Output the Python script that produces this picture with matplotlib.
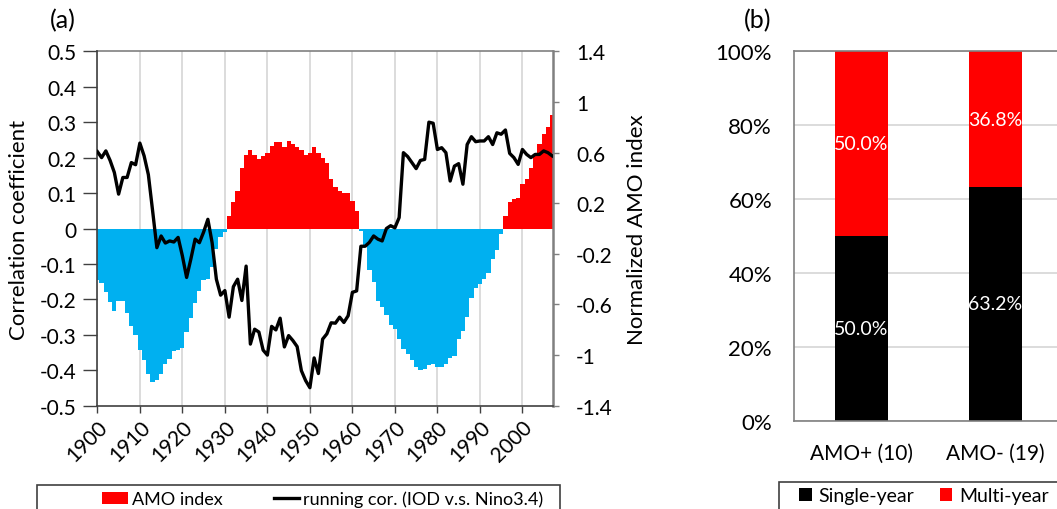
import matplotlib
matplotlib.use('Agg')
import numpy as np
import matplotlib.pyplot as plt
from matplotlib.patches import Patch, Rectangle
from matplotlib.lines import Line2D
from matplotlib.ticker import PercentFormatter

plt.rcParams['font.family'] = ['Lato', 'DejaVu Sans']

# annual series, 1900-2007
years = np.arange(1900, 2008)

amo_index = [
    -0.41, -0.43, -0.50, -0.58, -0.65, -0.57, -0.57, -0.67, -0.77, -0.84,
    -0.96, -1.04, -1.15, -1.21, -1.20, -1.15, -1.07, -1.03, -0.97, -0.96,
    -0.94, -0.82, -0.71, -0.59, -0.49, -0.41, -0.40, -0.30, -0.16, -0.07,
    -0.03, 0.10, 0.21, 0.30, 0.48, 0.58, 0.62, 0.58, 0.55, 0.57,
    0.60, 0.65, 0.68, 0.68, 0.64, 0.69, 0.67, 0.64, 0.62, 0.58,
    0.60, 0.64, 0.60, 0.56, 0.52, 0.39, 0.33, 0.30, 0.28, 0.28,
    0.22, 0.14, -0.02, -0.14, -0.33, -0.42, -0.57, -0.62, -0.68, -0.76,
    -0.79, -0.87, -0.95, -0.99, -1.04, -1.09, -1.12, -1.11, -1.08, -1.07,
    -1.09, -1.09, -1.07, -1.02, -1.01, -0.87, -0.81, -0.70, -0.55, -0.47,
    -0.44, -0.40, -0.35, -0.24, -0.17, -0.04, 0.10, 0.21, 0.23, 0.24,
    0.35, 0.39, 0.48, 0.57, 0.67, 0.75, 0.80, 0.90,
]

running_cor = [
    0.217, 0.200, 0.219, 0.192, 0.158, 0.097, 0.144, 0.144, 0.186, 0.180,
    0.241, 0.205, 0.152, 0.050, -0.054, -0.021, -0.041, -0.035, -0.038, -0.025,
    -0.077, -0.138, -0.086, -0.030, -0.040, -0.010, 0.026, -0.040, -0.143, -0.188,
    -0.175, -0.250, -0.164, -0.143, -0.203, -0.106, -0.326, -0.284, -0.292, -0.343,
    -0.357, -0.276, -0.286, -0.253, -0.334, -0.302, -0.316, -0.333, -0.401, -0.429,
    -0.449, -0.365, -0.409, -0.312, -0.297, -0.266, -0.267, -0.250, -0.265, -0.246,
    -0.180, -0.176, -0.050, -0.050, -0.039, -0.021, -0.030, -0.035, 0.000, 0.008,
    0.002, 0.031, 0.214, 0.203, 0.186, 0.169, 0.192, 0.195, 0.300, 0.297,
    0.223, 0.228, 0.214, 0.134, 0.176, 0.183, 0.125, 0.237, 0.259, 0.245,
    0.247, 0.247, 0.259, 0.237, 0.270, 0.266, 0.278, 0.212, 0.200, 0.181,
    0.223, 0.209, 0.200, 0.209, 0.209, 0.219, 0.214, 0.205,
]

decade_ticks = np.arange(1900, 2001, 10)
cor_ticks = np.round(np.arange(-0.5, 0.51, 0.1), 1)
amo_ticks = np.round(np.arange(-1.4, 1.41, 0.4), 1)

groups = ['AMO+ (10)', 'AMO- (19)']
single_year = [0.500, 0.632]
multi_year = [0.500, 0.368]

RED = '#FF0000'
BLUE = '#00B0F0'
GRID = '#D9D9D9'
DARK = '#404040'
GREY = '#808080'


def fmt_num(v):
    # plain Excel-like numbers, no "-0"
    return f'{v + 0.0:g}'


fig = plt.figure(figsize=(10.57, 5.10), dpi=100)

# ---- panel (a): AMO bars (right axis) + running correlation (left axis)
ax = fig.add_axes([0.0921, 0.2024, 0.4311, 0.6951])
ax2 = ax.twinx()

amo = np.array(amo_index)
ax.bar(years, amo, width=1.0, color=np.where(amo >= 0, RED, BLUE),
       linewidth=0, zorder=2)
ax.set_xlim(1900, 2007.2)
ax.set_ylim(-1.4, 1.4)
ax.set_xticks(decade_ticks)
ax.set_xticklabels([str(y) for y in decade_ticks], rotation=45,
                   ha='right', va='top', rotation_mode='anchor')
ax.grid(axis='x', color=GRID, lw=1.3, zorder=0)
ax.set_axisbelow(True)
ax.yaxis.tick_right()
ax.yaxis.set_label_position('right')
ax.set_yticks(amo_ticks)
ax.set_yticklabels([fmt_num(v) for v in amo_ticks])
ax.set_ylabel('Normalized AMO index', fontsize=16, labelpad=10)
ax.tick_params(axis='y', direction='out', length=4.5, width=1, color=GREY,
               labelsize=15, pad=12)
ax.tick_params(axis='x', direction='out', length=5, width=1, color=DARK,
               labelsize=15, pad=3)
for lbl in ax.get_yticklabels():
    lbl.set_ha('left')
ax.spines['left'].set_visible(False)
ax.spines['right'].set_color(GREY)
ax.spines['right'].set_linewidth(1.8)
ax.spines['top'].set_color(GREY)
ax.spines['top'].set_linewidth(1.2)
ax.spines['bottom'].set_color(DARK)
ax.spines['bottom'].set_linewidth(1.2)

ax2.plot(years, running_cor, color='black', lw=2.4, zorder=3)
ax2.set_ylim(-0.5, 0.5)
ax2.yaxis.tick_left()
ax2.yaxis.set_label_position('left')
ax2.set_yticks(cor_ticks)
ax2.set_yticklabels([fmt_num(v) for v in cor_ticks])
ax2.set_ylabel('Correlation coefficient', fontsize=16, labelpad=8)
ax2.tick_params(axis='y', direction='out', length=10, width=1, color=DARK,
                labelsize=15, pad=5)
for side in ['right', 'top', 'bottom']:
    ax2.spines[side].set_visible(False)
ax2.spines['left'].set_color(DARK)
ax2.spines['left'].set_linewidth(1.2)

fig.text(76 / 1057, 1 - 21 / 510, '(a)', ha='right', va='center', fontsize=18)

# legend box for panel (a)
fig.patches.append(Rectangle((36.8 / 1057, -0.1), (560 - 36.8) / 1057,
                             0.1 + 1 - 486.4 / 510, transform=fig.transFigure,
                             fill=False, edgecolor=DARK, lw=1.2))
fig.legend(handles=[Patch(facecolor=RED, edgecolor='none'),
                    Line2D([], [], color='black', lw=2.4)],
           labels=['AMO index', 'running cor. (IOD v.s. Nino3.4)'],
           ncol=2, frameon=False, loc='center',
           bbox_to_anchor=(323 / 1057, 1 - 500 / 510),
           fontsize=13, handlelength=1.4, handleheight=0.58,
           handletextpad=0.25, columnspacing=2.8, borderpad=0,
           borderaxespad=0)

# ---- panel (b): share of single-year vs multi-year events
bx = fig.add_axes([0.7515, 0.1731, 0.2535, 0.7244])
xpos = np.arange(len(groups))
bx.bar(xpos, single_year, width=0.4, color='black', zorder=2)
bx.bar(xpos, multi_year, width=0.4, bottom=single_year, color=RED, zorder=2)
for i in range(len(groups)):
    bx.text(xpos[i], single_year[i] / 2, f'{single_year[i] * 100:.1f}%',
            color='white', ha='center', va='center', fontsize=14, zorder=3)
    bx.text(xpos[i], single_year[i] + multi_year[i] / 2,
            f'{multi_year[i] * 100:.1f}%',
            color='white', ha='center', va='center', fontsize=14, zorder=3)
bx.set_xlim(-0.5, 1.5)
bx.set_ylim(0, 1)
bx.set_yticks(np.arange(0, 1.01, 0.2))
bx.yaxis.set_major_formatter(PercentFormatter(1.0, decimals=0))
bx.set_xticks(xpos)
bx.set_xticklabels(groups)
bx.grid(axis='y', color=GRID, lw=1.3, zorder=0)
bx.set_axisbelow(True)
bx.tick_params(axis='y', length=0, labelsize=16, pad=16)
bx.tick_params(axis='x', length=0, labelsize=15, pad=16)
for side in ['left', 'bottom', 'top', 'right']:
    bx.spines[side].set_color(GREY)
    bx.spines[side].set_linewidth(1.2)

fig.text(771 / 1057, 1 - 21 / 510, '(b)', ha='right', va='center', fontsize=18)

fig.patches.append(Rectangle((779 / 1057, -0.1), 0.4, 0.1 + 1 - 482.7 / 510,
                             transform=fig.transFigure, fill=False,
                             edgecolor=DARK, lw=1.2))
fig.legend(handles=[Patch(facecolor='black'), Patch(facecolor=RED)],
           labels=['Single-year', 'Multi-year'],
           ncol=2, frameon=False, loc='center',
           bbox_to_anchor=(924 / 1057, 1 - 497 / 510),
           fontsize=14, handlelength=0.65, handleheight=0.65,
           handletextpad=0.35, columnspacing=1.3, borderpad=0,
           borderaxespad=0)

fig.savefig('out.png', dpi=100)
